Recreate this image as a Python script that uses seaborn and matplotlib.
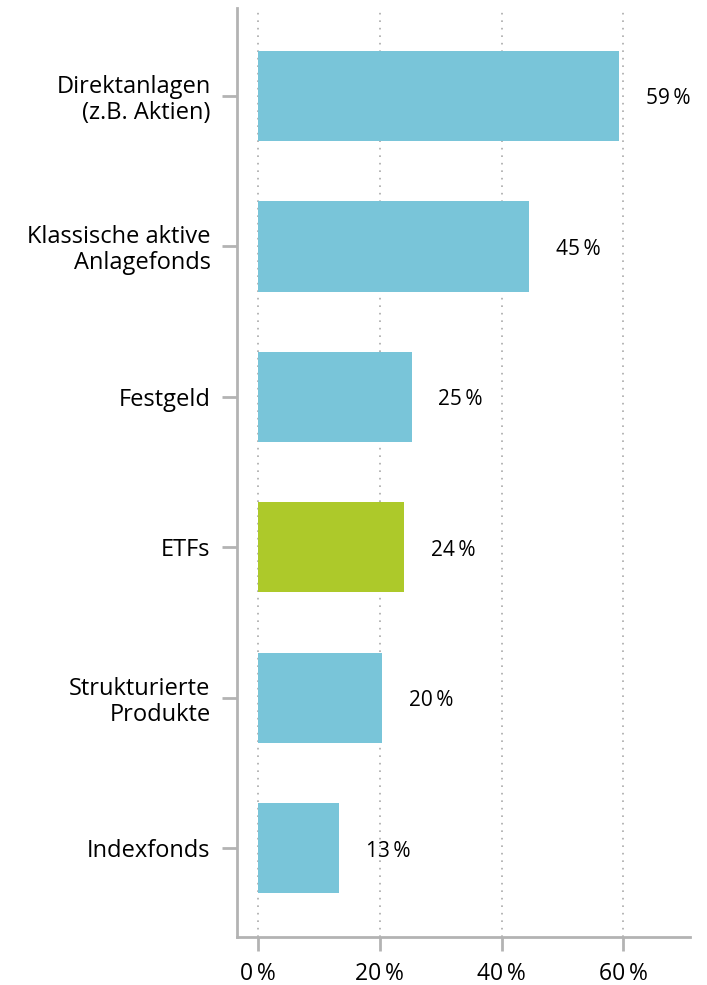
import pandas as pd
import matplotlib.pyplot as plt
import seaborn as sns

# data
kategorien = ["Direktanlagen\n(z.B. Aktien)", "Klassische aktive\nAnlagefonds", "Festgeld",
              "ETFs", "Strukturierte\nProdukte", "Indexfonds"]
anteile = [59.4, 44.6, 25.2, 24.0, 20.4, 13.3]
farben = ["#79c5d9", "#79c5d9", "#79c5d9", "#adc92a", "#79c5d9", "#79c5d9"]
xticks = [0, 20, 40, 60]

df = pd.DataFrame({"kat": kategorien, "wert": anteile})

sns.set_style("white")
plt.rcParams["font.family"] = ["Open Sans", "DejaVu Sans"]

fig = plt.figure(figsize=(7.07, 9.85), dpi=100)
ax = fig.add_axes([0.3352, 0.0487, 0.6408, 0.9432])

sns.barplot(data=df, x="wert", y="kat", hue="kat", palette=farben, legend=False,
            width=0.6, saturation=1, linewidth=0, ax=ax, zorder=3)

# value labels
for i, v in enumerate(anteile):
    ax.annotate(f"{round(v)}\u2009%", (v, i), xytext=(19, -2), textcoords="offset points",
                va="center", ha="left", fontsize=15, color="black")

ax.set_xlim(-3.5, 71)
ax.set_ylim(5.59, -0.585)
ax.set_xticks(xticks)
ax.set_xticklabels([f"{t}\u2009%" for t in xticks], fontsize=16.5, color="black")
ax.tick_params(axis="y", labelsize=17, labelcolor="black", length=11, width=2,
               color="#b3b3b3", pad=8, left=True)
ax.tick_params(axis="x", length=10, width=2, color="#b3b3b3", pad=8, bottom=True)
ax.set_xlabel("")
ax.set_ylabel("")
for lbl in ax.get_yticklabels():
    lbl.set_ha("right")
    lbl.set_multialignment("right")
    lbl.set_linespacing(1.1)

ax.grid(axis="x", linestyle=(0, (1, 3.5)), color="#aaaaaa", linewidth=1.2, zorder=0)
ax.grid(axis="y", visible=False)
for s in ["top", "right"]:
    ax.spines[s].set_visible(False)
for s in ["left", "bottom"]:
    ax.spines[s].set_color("#b3b3b3")
    ax.spines[s].set_linewidth(2)

fig.savefig("out.png", dpi=100)
